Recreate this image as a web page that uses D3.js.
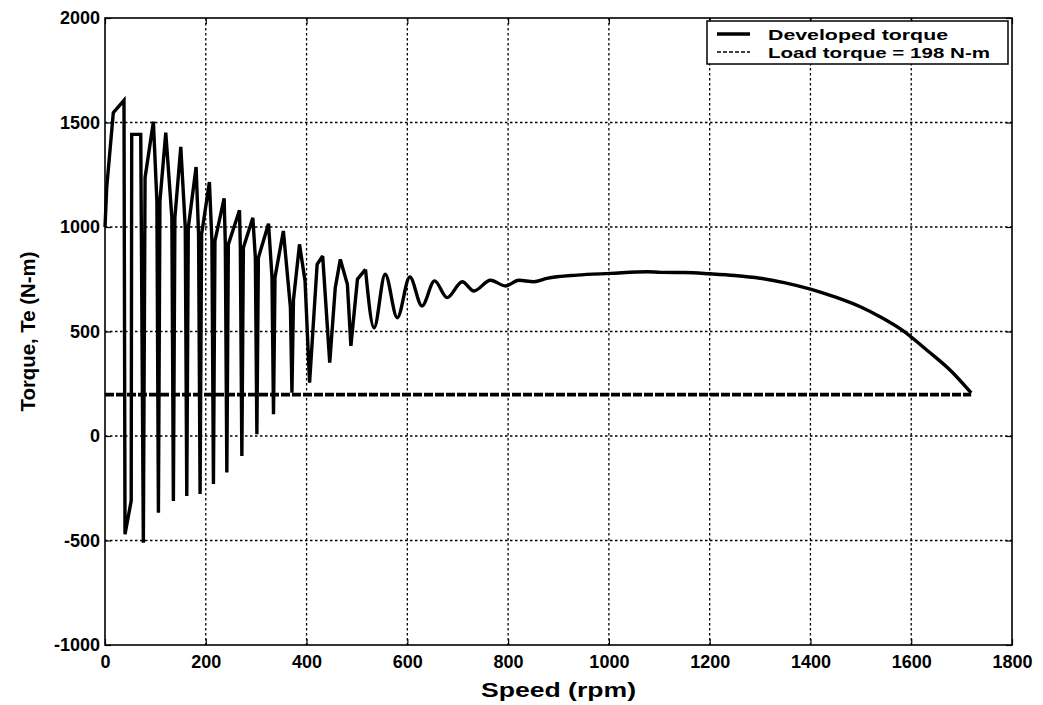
<!DOCTYPE html>
<html>
<head>
<meta charset="utf-8">
<script src="https://cdn.jsdelivr.net/npm/d3@7"></script>
<style>
  html, body { margin: 0; padding: 0; background: #fff; }
  svg { display: block; }
  text { font-family: "Liberation Sans", Arial, Helvetica, sans-serif; font-weight: bold; fill: #000; }
</style>
</head>
<body>
<svg id="chart" width="1043" height="705"></svg>
<script>
// ---- data ----
const speed = [
  0, 3.4, 16.5, 37.7, 39.7, 52, 53, 70.9, 76.1, 79.5, 96,
  103, 106, 109, 120.6,
  132.7, 135.7, 138.7, 150.4,
  159.3, 162.3, 165.3, 180.8,
  185.7, 188.7, 191.7, 207.2,
  212.2, 215.2, 218.2, 236.4,
  238.8, 241.8, 244.8, 266.9,
  268.6, 271.6, 274.6, 293.4,
  298.4, 301.4, 304.4, 324.5,
  331.4, 334.4, 337.4, 354,
  368, 371, 374, 386,
  397, 406, 421, 432,
  446, 457, 467,
  481, 488, 501, 517,
  534, 556, 580, 605, 629, 654, 679, 709, 732, 765, 795,
  821, 851, 877, 937, 1003, 1076, 1103, 1150, 1200, 1250, 1300,
  1350, 1400, 1450, 1500, 1540, 1580, 1633, 1679, 1719
];
const torque = [
  1000, 1188, 1547, 1606, -470, -310, 1443, 1443, -511, 1236, 1504,
  1124, -367, 1124, 1451,
  1045, -311, 1045, 1383,
  997, -287, 997, 1287,
  965, -278, 965, 1215,
  933, -230, 933, 1137,
  917, -175, 917, 1080,
  901, -96, 901, 1044,
  853, 8, 853, 1016,
  760, 104, 760, 981,
  614, 207, 650, 917,
  742, 255, 822, 861,
  351, 710, 845,
  726, 431, 750, 797,
  518, 774, 566, 761, 622, 742, 662, 738, 694, 745, 718,
  745, 738, 754, 770, 778, 786, 783, 782, 776, 768, 755,
  733, 703, 664, 617, 568, 510, 407, 311, 206
];
const loadTorque = 198;
const loadSpeedRange = [0, 1719];
const smoothFrom = 517;       // the curve is drawn smooth from this speed on

const xTicks = [0, 200, 400, 600, 800, 1000, 1200, 1400, 1600, 1800];
const yTicks = [-1000, -500, 0, 500, 1000, 1500, 2000];
const xTickLabels = ["0", "200", "400", "600", "800", "1000", "1200", "1400", "1600", "1800"];
const yTickLabels = ["-1000", "-500", "0", "500", "1000", "1500", "2000"];
const legendLabels = ["Developed torque", "Load torque = 198 N-m"];
const xTitle = "Speed (rpm)";
const yTitle = "Torque, Te (N-m)";

// ---- layout ----
const L = 105, R = 1012, T = 18, B = 645;
const svg = d3.select("#chart");

const x = d3.scaleLinear().domain([0, 1800]).range([L, R]);
const y = d3.scaleLinear().domain([-1000, 2000]).range([B, T]);

// grid
const grid = svg.append("g").attr("stroke", "#000").attr("stroke-width", 1.3)
  .attr("stroke-dasharray", "2.5,2.5");
grid.selectAll("line.gx").data(xTicks.slice(1, -1)).join("line")
  .attr("x1", d => x(d)).attr("x2", d => x(d)).attr("y1", T).attr("y2", B);
grid.selectAll("line.gy").data(yTicks.slice(1, -1)).join("line")
  .attr("x1", L).attr("x2", R).attr("y1", d => y(d)).attr("y2", d => y(d));

// load torque line
svg.append("line")
  .attr("x1", x(loadSpeedRange[0])).attr("x2", x(loadSpeedRange[1]))
  .attr("y1", y(loadTorque)).attr("y2", y(loadTorque))
  .attr("stroke", "#000").attr("stroke-width", 3.6)
  .attr("stroke-dasharray", "9,2");

// developed torque curve
const pts = speed.map((s, i) => ({ s, t: torque[i] }));
const spiky = pts.filter(p => p.s <= smoothFrom);
const smooth = pts.filter(p => p.s >= smoothFrom);
const lineLin = d3.line().x(d => x(d.s)).y(d => y(d.t)).curve(d3.curveLinear);
const lineSm = d3.line().x(d => x(d.s)).y(d => y(d.t)).curve(d3.curveMonotoneX);
svg.append("path").attr("d", lineLin(spiky))
  .attr("fill", "none").attr("stroke", "#000").attr("stroke-width", 3.4)
  .attr("stroke-linejoin", "miter").attr("stroke-miterlimit", 3);
svg.append("path").attr("d", lineSm(smooth))
  .attr("fill", "none").attr("stroke", "#000").attr("stroke-width", 3.4)
  .attr("stroke-linejoin", "round");

// axes (inward ticks, MATLAB-style box)
const xAxis = d3.axisBottom(x).tickValues(xTicks).tickSize(-6).tickPadding(10)
  .tickFormat((d, i) => xTickLabels[i]);
const yAxis = d3.axisLeft(y).tickValues(yTicks).tickSize(-6).tickPadding(5)
  .tickFormat((d, i) => yTickLabels[i]);
const gx = svg.append("g").attr("transform", `translate(0,${B})`).call(xAxis);
const gy = svg.append("g").attr("transform", `translate(${L},0)`).call(yAxis);
const gxt = svg.append("g").attr("transform", `translate(0,${T})`)
  .call(d3.axisTop(x).tickValues(xTicks).tickSize(-6).tickFormat(""));
const gyr = svg.append("g").attr("transform", `translate(${R},0)`)
  .call(d3.axisRight(y).tickValues(yTicks).tickSize(-6).tickFormat(""));
[gx, gy, gxt, gyr].forEach(g => {
  g.select(".domain").remove();
  g.selectAll(".tick line").attr("stroke", "#000").attr("stroke-width", 1.2);
  g.selectAll("text").attr("font-size", 18).attr("font-weight", "bold")
    .attr("font-family", "'Liberation Sans', Arial, sans-serif").attr("fill", "#000");
});

// box
svg.append("rect").attr("x", L).attr("y", T).attr("width", R - L).attr("height", B - T)
  .attr("fill", "none").attr("stroke", "#000").attr("stroke-width", 1.6);

// titles
svg.append("text").attr("x", (L + R) / 2).attr("y", 697).attr("text-anchor", "middle")
  .attr("font-size", 21).attr("textLength", 155).attr("lengthAdjust", "spacingAndGlyphs")
  .text(xTitle);
svg.append("text").attr("transform", `translate(35,${(T + B) / 2}) rotate(-90)`)
  .attr("text-anchor", "middle").attr("font-size", 20)
  .attr("textLength", 160).attr("lengthAdjust", "spacingAndGlyphs")
  .text(yTitle);

// legend
const lg = svg.append("g");
lg.append("rect").attr("x", 707).attr("y", 21).attr("width", 301).attr("height", 43)
  .attr("fill", "#fff").attr("stroke", "#000").attr("stroke-width", 1.5);
const rows = [
  { label: legendLabels[0], dash: null, w: 3.4, len: 180 },
  { label: legendLabels[1], dash: "4,2", w: 1.6, len: 222 }
];
rows.forEach((r, i) => {
  const yy = 34 + i * 18;
  lg.append("line").attr("x1", 717).attr("x2", 750).attr("y1", yy).attr("y2", yy)
    .attr("stroke", "#000").attr("stroke-width", r.w)
    .attr("stroke-dasharray", r.dash);
  lg.append("text").attr("x", 768).attr("y", yy + 5.5).attr("font-size", 15)
    .attr("textLength", r.len).attr("lengthAdjust", "spacingAndGlyphs")
    .text(r.label);
});
</script>
</body>
</html>
